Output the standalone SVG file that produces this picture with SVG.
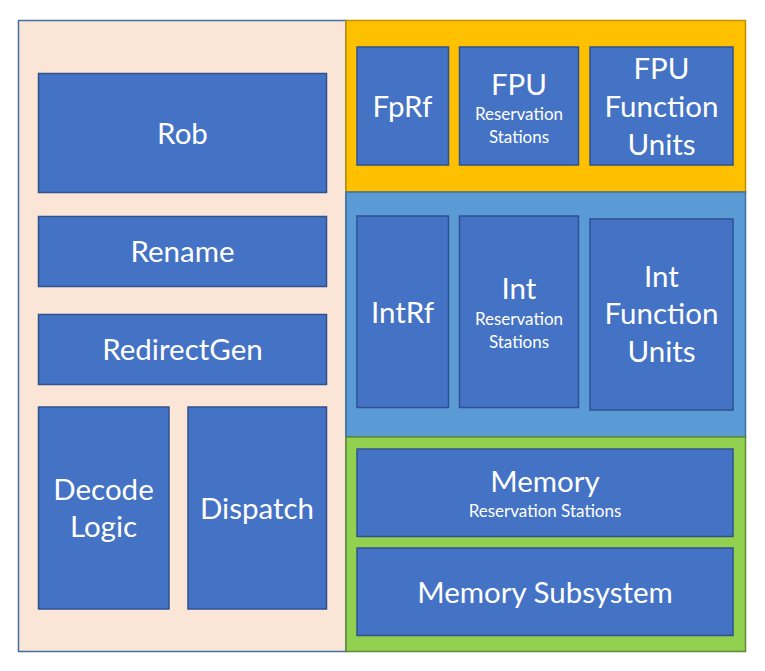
<svg xmlns="http://www.w3.org/2000/svg" width="765" height="671" viewBox="0 0 765 671">
<style>
.b{fill:#4472C4;stroke:#2F528F;stroke-width:1.5}
.t{font-family:Lato,"Open Sans","Liberation Sans",sans-serif;fill:#fff;text-anchor:middle;font-size:29.5px}
.s{font-size:17px}
</style>
<rect width="765" height="671" fill="#fff"/>
<g id="frontend">
<rect x="18.5" y="20.5" width="327.5" height="631" fill="#FBE5D6" stroke="#41719C" stroke-width="1.5"/>
</g>
<g id="fpu-section"><rect x="346" y="20.5" width="399.5" height="171.5" fill="#FFC000" stroke="#BF9000" stroke-width="1.5"/></g>
<g id="int-section"><rect x="346" y="192" width="399.5" height="245" fill="#5B9BD5" stroke="#41719C" stroke-width="1.5"/></g>
<g id="mem-section"><rect x="346" y="437" width="399.5" height="214.5" fill="#92D050" stroke="#5E8A33" stroke-width="1.5"/></g>
<g id="rob"><rect class="b" x="38.5" y="73.5" width="288" height="119"/><text class="t" x="182.5" y="144">Rob</text></g>
<g id="rename"><rect class="b" x="38.5" y="216.5" width="288" height="70"/><text class="t" x="182.5" y="262">Rename</text></g>
<g id="redirectgen"><rect class="b" x="38.5" y="314.5" width="288" height="70"/><text class="t" x="182.5" y="360">RedirectGen</text></g>
<g id="decode"><rect class="b" x="38.5" y="407" width="130.5" height="202"/><text class="t" x="103.5" y="500">Decode</text><text class="t" x="103.5" y="537">Logic</text></g>
<g id="dispatch"><rect class="b" x="188" y="407" width="138.5" height="202"/><text class="t" x="257" y="519">Dispatch</text></g>
<g id="fprf"><rect class="b" x="357" y="47" width="91.5" height="118"/><text class="t" x="402.5" y="117">FpRf</text></g>
<g id="fpu-rs"><rect class="b" x="459.5" y="47" width="119" height="118"/><text class="t" x="519" y="95">FPU</text><text class="t s" x="519" y="120">Reservation</text><text class="t s" x="519" y="143">Stations</text></g>
<g id="fpu-fu"><rect class="b" x="590" y="47" width="143" height="118"/><text class="t" x="661.5" y="79">FPU</text><text class="t" x="661.5" y="117">Function</text><text class="t" x="661.5" y="155">Units</text></g>
<g id="intrf"><rect class="b" x="357" y="216" width="91.5" height="191.5"/><text class="t" x="402.5" y="323">IntRf</text></g>
<g id="int-rs"><rect class="b" x="459.5" y="216" width="119" height="191.5"/><text class="t" x="519" y="299">Int</text><text class="t s" x="519" y="325">Reservation</text><text class="t s" x="519" y="348">Stations</text></g>
<g id="int-fu"><rect class="b" x="590" y="219" width="143" height="191"/><text class="t" x="661.5" y="287">Int</text><text class="t" x="661.5" y="324">Function</text><text class="t" x="661.5" y="362">Units</text></g>
<g id="mem-rs"><rect class="b" x="357" y="449" width="376" height="87.5"/><text class="t" x="545" y="492">Memory</text><text class="t s" x="545" y="517">Reservation Stations</text></g>
<g id="mem-sub"><rect class="b" x="357" y="548" width="376" height="87.5"/><text class="t" x="545" y="603">Memory Subsystem</text></g>
<g id="connectors"/>
</svg>
